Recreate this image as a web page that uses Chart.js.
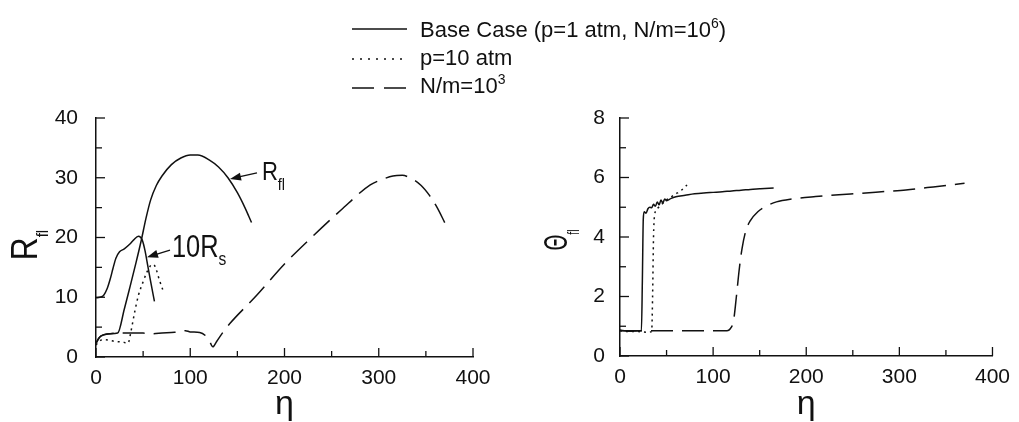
<!DOCTYPE html>
<html>
<head>
<meta charset="utf-8">
<script src="https://cdn.jsdelivr.net/npm/chart.js@4.4.0/dist/chart.umd.min.js"></script>
<style>
  body { margin: 0; background: #fff; width: 1019px; height: 422px; overflow: hidden; position: relative; }
  .box { position: absolute; top: 0; height: 422px; }
  #leftBox { left: 0; width: 510px; }
  #rightBox { left: 510px; width: 509px; }
  #legend { position: absolute; left: 0; top: 0; }
</style>
</head>
<body>
<div class="box" id="leftBox"><canvas id="rChart"></canvas></div>
<div class="box" id="rightBox"><canvas id="thChart"></canvas></div>

<svg id="legend" width="1019" height="110" font-family="Liberation Sans, Arial, sans-serif" font-size="22" fill="#111">
  <line x1="352" y1="29" x2="407" y2="29" stroke="#111" stroke-width="1.5"/>
  <text x="420" y="37">Base Case (p=1 atm, N/m=10<tspan dy="-9" font-size="14">6</tspan><tspan dy="9">)</tspan></text>
  <line x1="352" y1="59" x2="407" y2="59" stroke="#111" stroke-width="1.5" stroke-dasharray="2 6"/>
  <text x="420" y="65">p=10 atm</text>
  <line x1="352" y1="88" x2="407" y2="88" stroke="#111" stroke-width="1.7" stroke-dasharray="22 10"/>
  <text x="420" y="93">N/m=10<tspan dy="-9" font-size="14">3</tspan></text>
</svg>

<script>
// ---- data: left panel (R vs eta) ----
const etaRfl = [0, 3, 8, 15, 23, 30, 36, 42, 48, 53, 58, 64, 70, 80, 90, 100, 108, 120, 130, 140, 150, 158, 165];
const rflBase = [2.3, 3.2, 3.7, 3.9, 4.0, 8.0, 11.7, 15.5, 19.5, 23.2, 26.3, 28.7, 30.3, 32.2, 33.3, 33.8, 33.8, 33.0, 31.8, 30.0, 27.5, 25.0, 22.5];

const etaRs = [0, 4, 8, 12, 15, 18, 21, 25, 30, 36, 40, 45, 49, 52, 55, 58, 62];
const rsBase = [9.9, 10.0, 10.3, 11.5, 13.0, 14.8, 16.5, 17.6, 18.1, 18.9, 19.6, 20.2, 19.6, 17.8, 15.2, 12.6, 9.3];

const etaP10 = [0, 3, 8, 14, 20, 28, 34, 37, 41, 45, 50, 54, 58, 61, 64, 67, 71];
const rP10 = [2.0, 2.6, 2.9, 2.8, 2.6, 2.5, 2.3, 4.2, 7.5, 10.3, 12.6, 14.2, 15.3, 15.5, 14.6, 13.0, 11.2];

const etaN3 = [0, 5, 15, 25, 35, 50, 60, 70, 80, 90, 95, 100, 110, 116, 120, 124, 128, 135, 142, 171, 199, 228, 260, 291, 305, 315, 325, 333, 345, 354, 362, 370];
const rN3 = [2.3, 3.5, 3.9, 4.0, 4.0, 4.0, 3.9, 4.0, 4.1, 4.2, 4.4, 4.2, 4.1, 3.6, 2.8, 1.7, 2.6, 4.2, 5.6, 10.4, 15.4, 19.9, 24.6, 28.8, 29.8, 30.3, 30.4, 30.0, 28.7, 27.0, 25.0, 22.5];

// ---- data: right panel (theta vs eta) ----
const etaThBase = [0, 5, 10, 15, 20, 23, 24, 25, 26, 28, 30, 32, 34, 36, 38, 40, 42, 44, 46, 48, 50, 55, 60, 70, 80, 90, 100, 110, 120, 130, 140, 150, 165];
const thBase = [0.87, 0.85, 0.83, 0.84, 0.85, 0.85, 2.5, 4.6, 4.85, 4.8, 4.95, 5.0, 4.98, 5.1, 5.03, 5.18, 5.08, 5.24, 5.14, 5.28, 5.22, 5.3, 5.35, 5.4, 5.45, 5.48, 5.5, 5.52, 5.55, 5.57, 5.6, 5.62, 5.65];

const etaThP10 = [0, 10, 20, 30, 34, 35, 36, 37, 40, 45, 50, 55, 60, 65, 72];
const thP10 = [0.85, 0.82, 0.82, 0.8, 0.82, 2.0, 4.0, 4.7, 4.95, 5.1, 5.25, 5.35, 5.45, 5.55, 5.75];

const etaThN3 = [0, 20, 40, 60, 80, 100, 115, 118, 122, 125, 128, 131, 135, 140, 148, 158, 168, 185, 210, 235, 260, 285, 307, 330, 350, 370];
const thN3 = [0.85, 0.85, 0.85, 0.85, 0.85, 0.85, 0.85, 0.9, 1.2, 2.0, 2.9, 3.6, 4.2, 4.55, 4.85, 5.05, 5.18, 5.28, 5.36, 5.42, 5.47, 5.53, 5.58, 5.66, 5.73, 5.81];

const INK = "#111";
const FONT = "'Liberation Sans', Arial, sans-serif";
const SOLID = [];
const DOTTED = [2, 4];
const DASHED = [22, 9];

function pts(xs, ys) {
  return xs.map((x, i) => ({ x, y: ys[i] }));
}

function line(label, xs, ys, dash) {
  return {
    label,
    data: pts(xs, ys),
    borderColor: INK,
    borderWidth: 1.5,
    borderDash: dash,
    pointRadius: 0,
    fill: false,
    cubicInterpolationMode: "monotone",
  };
}

// text with a subscript, drawn from the current origin along +x
function drawSub(ctx, t) {
  ctx.save();
  ctx.scale(t.squeeze || 1, 1);
  ctx.font = `${t.size}px ${FONT}`;
  ctx.fillText(t.text, 0, 0);
  const w = ctx.measureText(t.text).width;
  ctx.font = `${t.subSize}px ${FONT}`;
  ctx.fillText(t.sub, w + (t.subGap || 0), t.subDrop);
  ctx.restore();
}

function subWidth(ctx, t) {
  ctx.font = `${t.size}px ${FONT}`;
  let w = ctx.measureText(t.text).width;
  ctx.font = `${t.subSize}px ${FONT}`;
  w += ctx.measureText(t.sub).width + (t.subGap || 0);
  return w * (t.squeeze || 1);
}

function arrow(ctx, x0, y0, x1, y1) {
  const ang = Math.atan2(y1 - y0, x1 - x0);
  ctx.beginPath();
  ctx.moveTo(x0, y0);
  ctx.lineTo(x1 - 8 * Math.cos(ang), y1 - 8 * Math.sin(ang));
  ctx.stroke();
  ctx.beginPath();
  ctx.moveTo(x1, y1);
  ctx.lineTo(x1 - 11 * Math.cos(ang) + 4 * Math.sin(ang), y1 - 11 * Math.sin(ang) - 4 * Math.cos(ang));
  ctx.lineTo(x1 - 11 * Math.cos(ang) - 4 * Math.sin(ang), y1 - 11 * Math.sin(ang) + 4 * Math.cos(ang));
  ctx.closePath();
  ctx.fill();
}

// inward ticks, axis titles and curve labels
const paperPlugin = {
  id: "paper",
  afterDraw(chart, args, o) {
    const { ctx, chartArea: a, scales: { x, y } } = chart;
    ctx.save();
    ctx.strokeStyle = INK;
    ctx.fillStyle = INK;
    ctx.lineWidth = 1.3;

    for (let v = x.min; v <= x.max + 1e-6; v += o.xMinor) {
      const px = x.getPixelForValue(v);
      const len = Math.abs(v % o.xMajor) < 1e-6 ? 9 : 6;
      ctx.beginPath();
      ctx.moveTo(px, a.bottom);
      ctx.lineTo(px, a.bottom - len);
      ctx.stroke();
    }
    for (let v = y.min; v <= y.max + 1e-6; v += o.yMinor) {
      const py = y.getPixelForValue(v);
      const len = Math.abs(v % o.yMajor) < 1e-6 ? 9 : 6;
      ctx.beginPath();
      ctx.moveTo(a.left, py);
      ctx.lineTo(a.left + len, py);
      ctx.stroke();
    }

    // eta title
    ctx.font = `${o.xTitleSize}px ${FONT}`;
    ctx.textAlign = "center";
    ctx.textBaseline = "alphabetic";
    ctx.fillText("η", (a.left + a.right) / 2, a.bottom + o.xTitleGap);

    // rotated y title
    ctx.textAlign = "left";
    const t = o.yTitle;
    ctx.save();
    ctx.translate(a.left - t.gap, t.cy);
    ctx.rotate(-Math.PI / 2);
    ctx.translate(-subWidth(ctx, t) / 2, 0);
    drawSub(ctx, t);
    ctx.restore();

    // curve labels with arrows
    (o.notes || []).forEach(n => {
      ctx.save();
      ctx.translate(x.getPixelForValue(n.at[0]), y.getPixelForValue(n.at[1]));
      drawSub(ctx, n);
      ctx.restore();
      arrow(ctx,
        x.getPixelForValue(n.from[0]), y.getPixelForValue(n.from[1]),
        x.getPixelForValue(n.to[0]), y.getPixelForValue(n.to[1]));
    });
    ctx.restore();
  },
};

function makeChart(id, datasets, opts) {
  return new Chart(document.getElementById(id), {
    type: "line",
    data: { datasets },
    plugins: [paperPlugin],
    options: {
      responsive: true,
      maintainAspectRatio: false,
      animation: false,
      devicePixelRatio: 1,
      layout: { padding: { left: 0, right: opts.padRight, top: 118, bottom: 0 } },
      plugins: {
        legend: { display: false },
        tooltip: { enabled: false },
        paper: opts.paper,
      },
      scales: {
        x: {
          type: "linear",
          min: 0,
          max: 400,
          grid: { display: false, drawTicks: false },
          border: { display: true, color: INK, width: 1.5 },
          ticks: { stepSize: 100, color: INK, padding: 9, maxRotation: 0, font: { family: FONT, size: 21 } },
          afterFit: s => { s.height = opts.xHeight; },
        },
        y: {
          type: "linear",
          min: 0,
          max: opts.yMax,
          grid: { display: false, drawTicks: false },
          border: { display: true, color: INK, width: 1.5 },
          ticks: { stepSize: opts.yStep, color: INK, padding: opts.yPad, font: { family: FONT, size: 21 } },
          afterFit: s => { s.width = opts.yWidth; },
        },
      },
    },
  });
}

makeChart("rChart", [
  line("R_fl base case", etaRfl, rflBase, SOLID),
  line("10R_s base case", etaRs, rsBase, SOLID),
  line("p=10 atm", etaP10, rP10, DOTTED),
  line("N/m=10^3", etaN3, rN3, DASHED),
], {
  padRight: 37, xHeight: 65, yWidth: 96, yMax: 40, yStep: 10, yPad: 18,
  paper: {
    xMinor: 50, xMajor: 100, yMinor: 5, yMajor: 10,
    xTitleSize: 34, xTitleGap: 57,
    yTitle: { text: "R", sub: "fl", size: 36, subSize: 17, subDrop: 11, squeeze: 0.88, gap: 59, cy: 245 },
    notes: [
      { text: "R", sub: "fl", size: 26, subSize: 17, subDrop: 10, squeeze: 0.85, at: [176, 29.6], from: [170.8, 30.8], to: [142.2, 29.8] },
      { text: "10R", sub: "s", size: 31, subSize: 19, subDrop: 8, squeeze: 0.82, at: [80.6, 16.7], from: [78.5, 17.9], to: [54.1, 16.7] },
    ],
  },
});

makeChart("thChart", [
  line("Base Case", etaThBase, thBase, SOLID),
  line("p=10 atm", etaThP10, thP10, DOTTED),
  line("N/m=10^3", etaThN3, thN3, DASHED),
], {
  padRight: 22, xHeight: 66, yWidth: 110, yMax: 8, yStep: 2, yPad: 15,
  paper: {
    xMinor: 50, xMajor: 100, yMinor: 1, yMajor: 2,
    xTitleSize: 34, xTitleGap: 58,
    yTitle: { text: "Θ", sub: "fl", size: 33, subSize: 17, subDrop: 12, squeeze: 0.62, gap: 53, cy: 240 },
  },
});
</script>
</body>
</html>
